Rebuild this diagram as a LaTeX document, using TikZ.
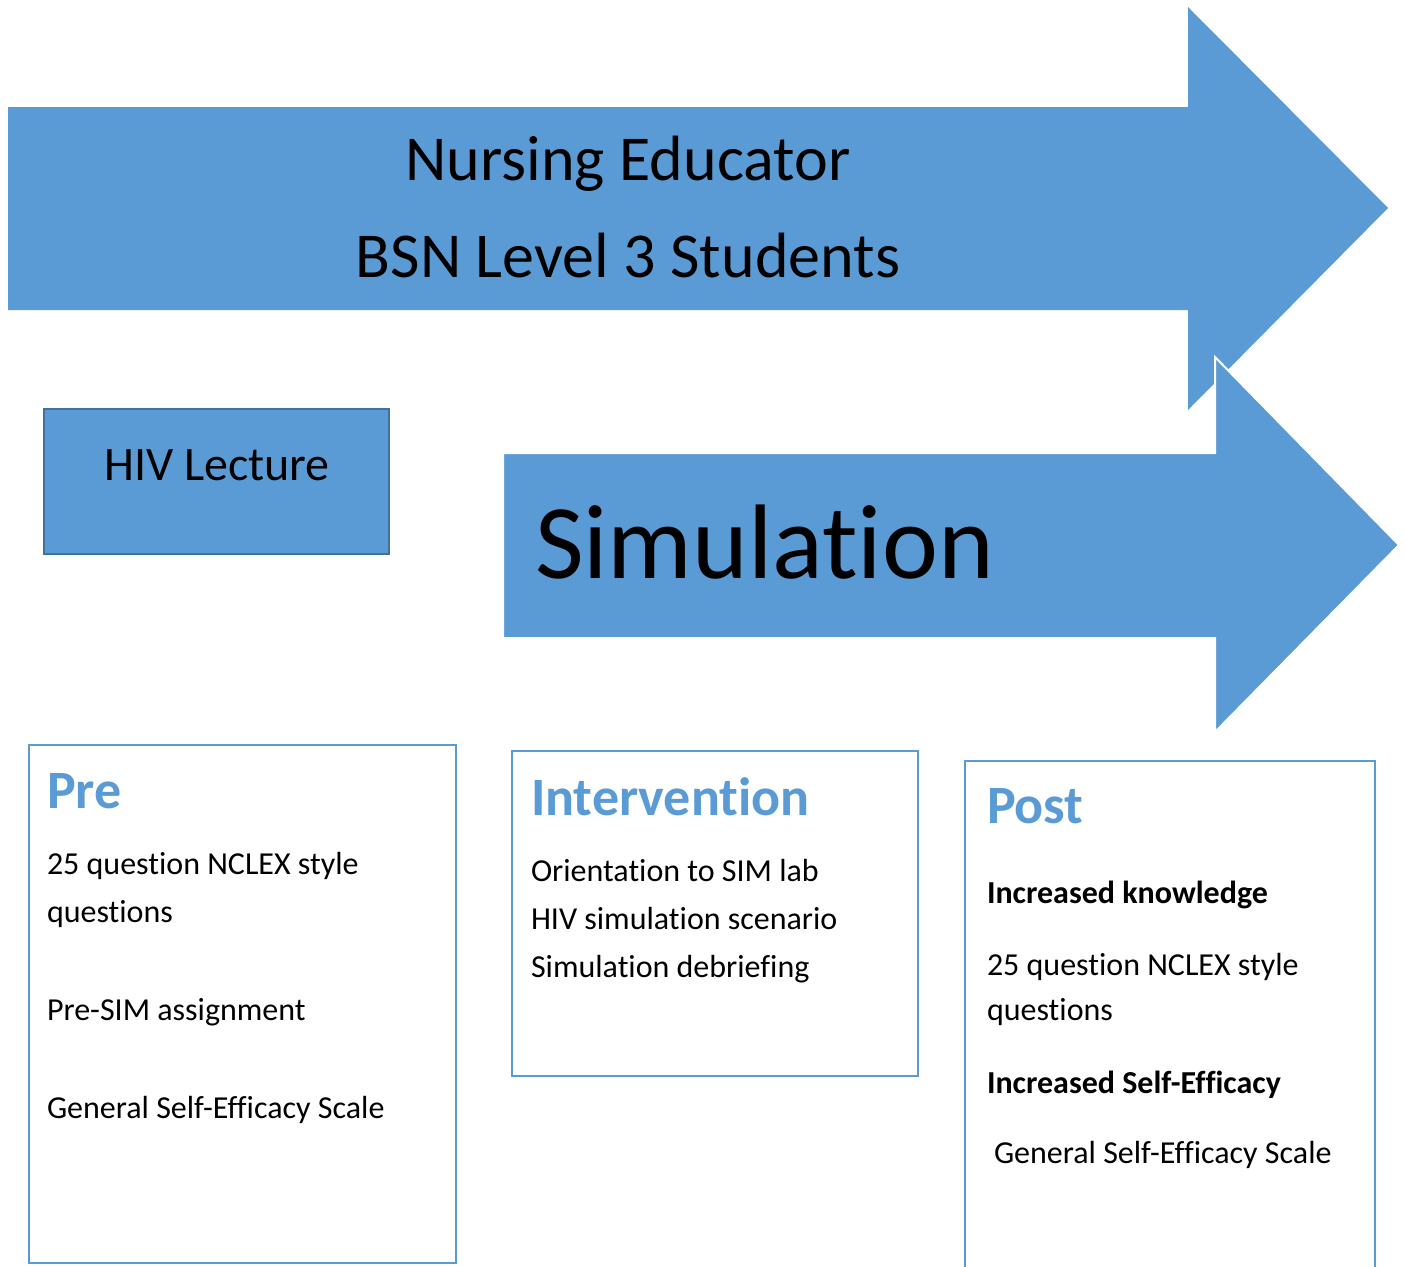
\documentclass[tikz,border=0pt]{standalone}
\usepackage{fontspec}
\setmainfont{Carlito}[Ligatures=NoCommon]
\usetikzlibrary{positioning}
\definecolor{arrowblue}{HTML}{5B9BD5}
\definecolor{edgeblue}{HTML}{41719C}

\begin{document}
\begin{tikzpicture}[
        x=0.5pt, y=-0.5pt,
        every node/.style={inner sep=0pt, outer sep=0pt},
        line/.style={anchor=base west, font=\fontsize{16}{19}\selectfont},
        boldline/.style={line, font=\fontsize{16}{19}\selectfont\bfseries},
        heading/.style={anchor=base west, text=arrowblue, font=\fontsize{27}{32}\selectfont\bfseries},
        panel/.style={draw=arrowblue, line width=1pt}
        ]

        \useasboundingbox (0,0) rectangle (1406,1266);

        % Arrows
        \fill[arrowblue] (8,107) -- (1188,107) -- (1188,7) -- (1388,208)
            -- (1188,410) -- (1188,310) -- (8,310) -- cycle;
        \filldraw[arrowblue, draw=white, line width=1pt] (503,453) -- (1215,453) -- (1215,357) -- (1399,545)
            -- (1215,732) -- (1215,638) -- (503,638) -- cycle;
        \node (educator) [anchor=base, font=\fontsize{32}{38}\selectfont] at (628,180) {Nursing Educator};
        \node (students) [anchor=base, font=\fontsize{32}{38}\selectfont] at (628,277) {BSN Level 3 Students};
        \node (sim) [anchor=base west, font=\fontsize{53}{60}\selectfont] at (535,578) {Simulation};

        % Lecture box
        \filldraw[fill=arrowblue, draw=edgeblue, line width=1pt] (44,409) rectangle (389,554);
        \node (lecture) [anchor=base, font=\fontsize{24}{28}\selectfont] at (217,480) {HIV Lecture};

        % Panels
        \draw[panel] (29,745) rectangle (456,1263);
        \draw[panel] (512,751) rectangle (918,1076);
        \draw[panel] (965,1275) -- (965,761) -- (1375,761) -- (1375,1275);

        % Pre
        \node (pre) [heading] at (47,808) {Pre};
        \node (pre1) [line] at (47,874) {25 question NCLEX style};
        \node (pre2) [line] at (47,922) {questions};
        \node (pre3) [line] at (47,1020) {Pre-SIM assignment};
        \node (pre4) [line] at (47,1118) {General Self-Efficacy Scale};

        % Intervention
        \node (int) [heading] at (531,815) {Intervention};
        \node (int1) [line] at (531,881) {Orientation to SIM lab};
        \node (int2) [line] at (531,929) {HIV simulation scenario};
        \node (int3) [line] at (531,977) {Simulation debriefing};

        % Post
        \node (post) [heading] at (987,823) {Post};
        \node (post1) [boldline] at (987,903) {Increased knowledge};
        \node (post2) [line] at (987,975) {25 question NCLEX style};
        \node (post3) [line] at (987,1020) {questions};
        \node (post4) [boldline] at (987,1093) {Increased Self-Efficacy};
        \node (post5) [line] at (994,1163) {General Self-Efficacy Scale};

    \end{tikzpicture}
\end{document}
